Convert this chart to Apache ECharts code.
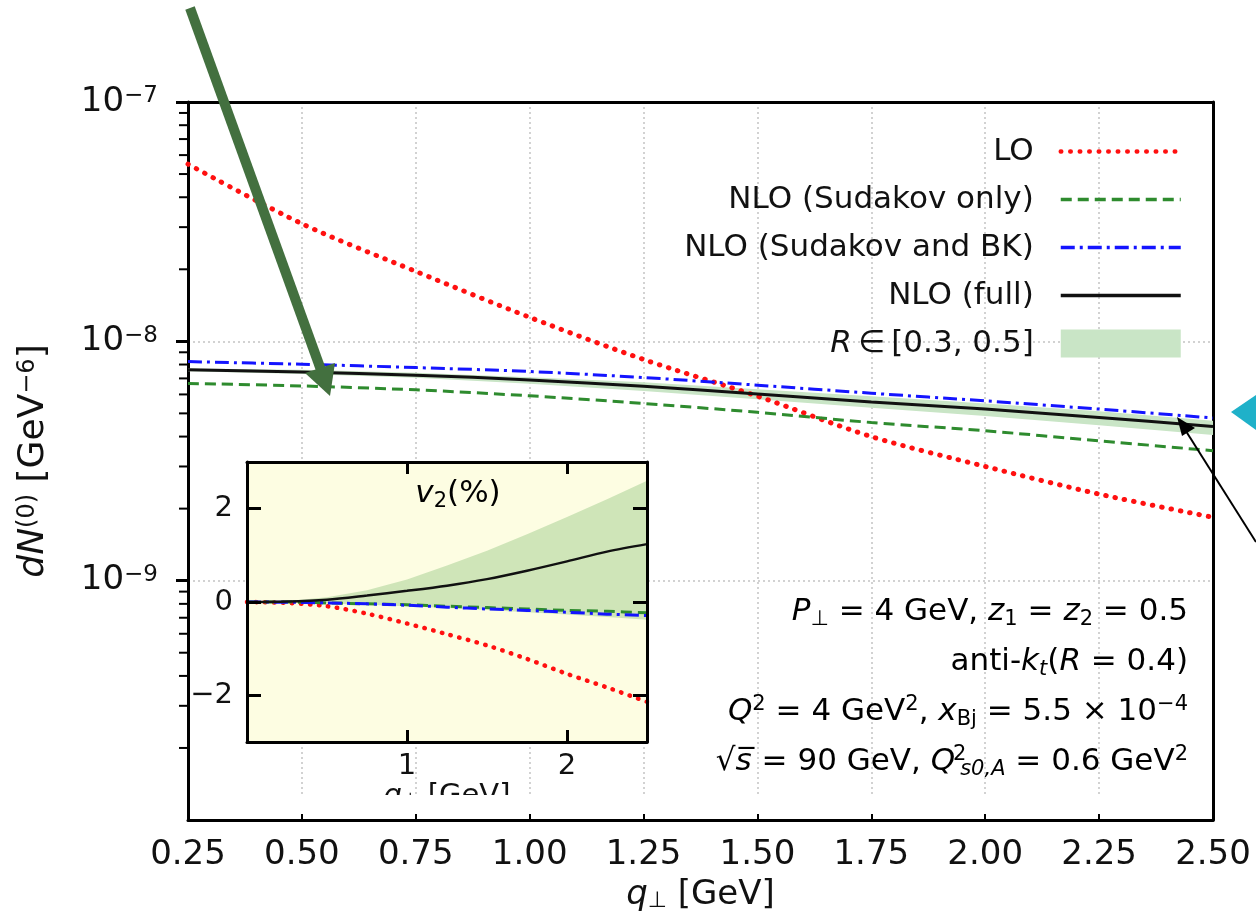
<!DOCTYPE html>
<html>
<head>
<meta charset="utf-8">
<script src="https://cdn.jsdelivr.net/npm/echarts@6/dist/echarts.min.js"></script>
<style>
html, body { margin: 0; padding: 0; background: #fff; }
#chart { width: 1256px; height: 920px; }
</style>
</head>
<body>
<div id="chart"></div>
<script>
// main panel: dN/dq  (log scale)
var qMain = [0.25, 0.5, 0.75, 1.0, 1.25, 1.5, 1.75, 2.0, 2.25, 2.5];
var loMain = [5.5e-8, 3.1e-8, 1.96e-8, 1.26e-8, 8.4e-9, 5.9e-9, 4.0e-9, 3.0e-9, 2.3e-9, 1.84e-9];
var sudOnlyMain = [6.67e-9, 6.51e-9, 6.27e-9, 5.92e-9, 5.5e-9, 5.05e-9, 4.58e-9, 4.23e-9, 3.84e-9, 3.49e-9];
var sudBkMain = [8.23e-9, 8.02e-9, 7.77e-9, 7.48e-9, 7.06e-9, 6.56e-9, 6.07e-9, 5.64e-9, 5.21e-9, 4.78e-9];
var fullMain = [7.6e-9, 7.45e-9, 7.22e-9, 6.9e-9, 6.49e-9, 6.02e-9, 5.58e-9, 5.21e-9, 4.81e-9, 4.41e-9];
var bandHiMain = [7.7e-9, 7.6e-9, 7.4e-9, 7.08e-9, 6.75e-9, 6.31e-9, 5.9e-9, 5.5e-9, 5.1e-9, 4.66e-9];
var bandLoMain = [7.5e-9, 7.3e-9, 7.05e-9, 6.65e-9, 6.2e-9, 5.73e-9, 5.28e-9, 4.88e-9, 4.46e-9, 4.06e-9];
var minorTicks = [2e-10, 3e-10, 4e-10, 5e-10, 6e-10, 7e-10, 8e-10, 9e-10,
                  2e-9, 3e-9, 4e-9, 5e-9, 6e-9, 7e-9, 8e-9, 9e-9,
                  2e-8, 3e-8, 4e-8, 5e-8, 6e-8, 7e-8, 8e-8, 9e-8];

// inset: v2 (%)
var qIn = [0, 0.25, 0.5, 0.75, 1.0, 1.25, 1.5, 1.75, 2.0, 2.25, 2.5];
var loIn = [0, -0.02, -0.09, -0.25, -0.46, -0.69, -0.93, -1.22, -1.54, -1.83, -2.14];
var sudOnlyIn = [0, 0, -0.02, -0.04, -0.06, -0.09, -0.12, -0.15, -0.18, -0.2, -0.23];
var sudBkIn = [0, -0.005, -0.02, -0.04, -0.07, -0.11, -0.15, -0.18, -0.22, -0.26, -0.29];
var fullIn = [0, 0.01, 0.05, 0.14, 0.24, 0.35, 0.49, 0.67, 0.87, 1.08, 1.24];
var bandHiIn = [0, 0.02, 0.1, 0.25, 0.48, 0.78, 1.1, 1.45, 1.82, 2.2, 2.6];
var bandLoIn = [0, -0.01, -0.03, -0.06, -0.09, -0.13, -0.17, -0.22, -0.27, -0.32, -0.38];

var names = ['LO', 'NLO (Sudakov only)', 'NLO (Sudakov and BK)', 'NLO (full)', 'R ∈ [0.3, 0.5]'];

var FONT = 'DejaVu Sans';
var RED = '#ff1010', GREEN = '#2e8b2e', BLUE = '#1414ff', BLACK = '#111';
var BAND = '#c9e5c6';

function zip(xs, ys) {
    return xs.map(function (x, i) { return [x, ys[i]]; });
}

function bandRender(xs, hi, lo) {
    return function (params, api) {
        if (params.dataIndex !== 0) return null;
        var pts = [];
        for (var i = 0; i < xs.length; i++) pts.push(api.coord([xs[i], hi[i]]));
        for (var j = xs.length - 1; j >= 0; j--) pts.push(api.coord([xs[j], lo[j]]));
        return { type: 'polygon', shape: { points: pts }, style: { fill: api.visual('color') } };
    };
}

var subRich = {
    n: { fontSize: 31, fontFamily: FONT, color: '#111', lineHeight: 36 },
    i: { fontSize: 31, fontFamily: FONT, fontStyle: 'italic', color: '#111', lineHeight: 36 },
    sub: { fontSize: 21, fontFamily: FONT, color: '#111', lineHeight: 15, verticalAlign: 'bottom' },
    subi: { fontSize: 21, fontFamily: FONT, fontStyle: 'italic', color: '#111', lineHeight: 15, verticalAlign: 'bottom' },
    sup: { fontSize: 21, fontFamily: FONT, color: '#111', lineHeight: 17, verticalAlign: 'top' },
    supz: { fontSize: 21, fontFamily: FONT, color: '#111', lineHeight: 17, verticalAlign: 'top',
            width: 1, align: 'left', padding: [0, 0, 0, 4] }
};

var chartDom = document.getElementById('chart');
var myChart = echarts.init(chartDom);
var option;

option = {
    backgroundColor: '#fff',
    animation: false,
    grid: [
        { left: 188, top: 102, right: 43, bottom: 100 },
        { left: 247, top: 462, right: 609, bottom: 178, show: true, backgroundColor: '#fdfde2', borderWidth: 0, z: 5 }
    ],
    legend: {
        data: [
            { name: names[0], lineStyle: { width: 4.5, type: [0.5, 9], cap: 'round' } },
            { name: names[1], lineStyle: { width: 3.5, type: [11, 6] } },
            { name: names[2], lineStyle: { width: 3.5, type: [14, 5, 3, 5] } },
            { name: names[3], lineStyle: { width: 3.5 } },
            { name: names[4], icon: 'rect', itemStyle: { opacity: 1, color: BAND } }
        ],
        orient: 'vertical',
        align: 'right',
        right: 68,
        top: 131,
        itemWidth: 120,
        itemHeight: 28,
        itemGap: 17,
        itemStyle: { opacity: 0 },   // hide the marker drawn over line icons
        textStyle: {
            fontSize: 31, fontFamily: FONT, color: '#111', padding: [0, 22, 0, 0],
            rich: {
                i: { fontSize: 31, fontFamily: FONT, fontStyle: 'italic', color: '#111' },
                n: { fontSize: 31, fontFamily: FONT, color: '#111' }
            }
        },
        formatter: function (name) {
            return name === names[4] ? '{i|R}{n|\u2009∈\u2009[0.3, 0.5]}' : name;
        }
    },
    xAxis: [
        {
            type: 'value', gridIndex: 0, min: 0.25, max: 2.5, interval: 0.25,
            name: '{i|q}{s|⊥}{n| [GeV]}', nameLocation: 'middle', nameGap: 58,
            nameTextStyle: {
                rich: {
                    i: { fontSize: 34, fontFamily: FONT, fontStyle: 'italic', color: '#111' },
                    n: { fontSize: 34, fontFamily: FONT, color: '#111' },
                    s: { fontSize: 22, fontFamily: FONT, color: '#111', lineHeight: 14, verticalAlign: 'bottom' }
                }
            },
            axisLine: { lineStyle: { color: '#000', width: 3 } },
            axisTick: { inside: true, length: 8, lineStyle: { color: '#000', width: 2 } },
            axisLabel: {
                fontSize: 34, fontFamily: FONT, color: '#111', margin: 18,
                formatter: function (v) { return v.toFixed(2); }
            },
            splitLine: { show: true, lineStyle: { color: '#c4c4c4', type: [2, 3], width: 1.5 } }
        },
        {
            type: 'value', gridIndex: 0, position: 'top', min: 0.25, max: 2.5, interval: 0.25,
            axisLine: { lineStyle: { color: '#000', width: 3 } },
            axisTick: { show: false }, axisLabel: { show: false }, splitLine: { show: false }
        },
        {
            type: 'value', gridIndex: 1, min: 0, max: 2.5, interval: 1, z: 8,
            name: '{i|q}{s|⊥}{n| [GeV]}', nameLocation: 'middle', nameGap: 40,
            nameTextStyle: {
                rich: {
                    i: { fontSize: 29, fontFamily: FONT, fontStyle: 'italic', color: '#111' },
                    n: { fontSize: 29, fontFamily: FONT, color: '#111' },
                    s: { fontSize: 19, fontFamily: FONT, color: '#111', lineHeight: 12, verticalAlign: 'bottom' }
                }
            },
            axisLine: { onZero: false, lineStyle: { color: '#000', width: 3 } },
            axisTick: { inside: true, length: 12, lineStyle: { color: '#000', width: 3 } },
            axisLabel: { fontSize: 29, fontFamily: FONT, color: '#111', margin: 10, showMinLabel: false, showMaxLabel: false },
            splitLine: { show: false }
        },
        {
            type: 'value', gridIndex: 1, position: 'top', min: 0, max: 2.5, interval: 1, z: 8,
            axisLine: { onZero: false, lineStyle: { color: '#000', width: 3 } },
            axisTick: { inside: true, length: 12, lineStyle: { color: '#000', width: 3 } },
            axisLabel: { show: false }, splitLine: { show: false }
        }
    ],
    yAxis: [
        {
            type: 'log', gridIndex: 0, logBase: 10, min: 1e-10, max: 1e-7,
            name: '{i|dN}{s|(0)}{n| [GeV}{s|−6}{n|]}', nameLocation: 'middle', nameGap: 136, nameRotate: 90,
            nameTextStyle: {
                rich: {
                    i: { fontSize: 36, fontFamily: FONT, fontStyle: 'italic', color: '#111' },
                    n: { fontSize: 36, fontFamily: FONT, color: '#111' },
                    s: { fontSize: 24, fontFamily: FONT, color: '#111', lineHeight: 15, verticalAlign: 'top' }
                }
            },
            axisLine: { lineStyle: { color: '#000', width: 3 } },
            axisTick: { length: 12, lineStyle: { color: '#000', width: 3 } },
            axisLabel: {
                margin: 30, showMinLabel: false,
                formatter: function (v) {
                    var e = Math.round(Math.log(v) / Math.LN10);
                    return '{b|10}{s|−' + (-e) + '}';
                },
                rich: {
                    b: { fontSize: 34, fontFamily: FONT, color: '#111' },
                    s: { fontSize: 23, fontFamily: FONT, color: '#111', lineHeight: 16, verticalAlign: 'top' }
                }
            },
            splitLine: { show: true, lineStyle: { color: '#c4c4c4', type: [2, 3], width: 1.5 } }
        },
        {
            type: 'log', gridIndex: 0, position: 'right', logBase: 10, min: 1e-10, max: 1e-7,
            axisLine: { lineStyle: { color: '#000', width: 3 } },
            axisTick: { show: false }, axisLabel: { show: false }, splitLine: { show: false }
        },
        {
            type: 'value', gridIndex: 1, min: -3, max: 3, z: 8,
            axisLine: { onZero: false, lineStyle: { color: '#000', width: 3 } },
            axisTick: { inside: true, length: 14, customValues: [-2, 0, 2], lineStyle: { color: '#000', width: 3 } },
            axisLabel: {
                fontSize: 29, fontFamily: FONT, color: '#111', margin: 14, customValues: [-2, 0, 2],
                formatter: function (v) { return v < 0 ? '−' + Math.abs(v) : String(v); }
            },
            splitLine: { show: false }
        },
        {
            type: 'value', gridIndex: 1, position: 'right', min: -3, max: 3, z: 8,
            axisLine: { onZero: false, lineStyle: { color: '#000', width: 3 } },
            axisTick: { inside: true, length: 14, customValues: [-2, 0, 2], lineStyle: { color: '#000', width: 3 } },
            axisLabel: { show: false }, splitLine: { show: false }
        }
    ],
    series: [
        // main panel
        {
            name: names[4], type: 'custom', xAxisIndex: 0, yAxisIndex: 0, z: 1, clip: true,
            itemStyle: { color: BAND },
            renderItem: bandRender(qMain, bandHiMain, bandLoMain),
            encode: { x: 0, y: [1, 2] },
            data: qMain.map(function (q, i) { return [q, bandHiMain[i], bandLoMain[i]]; })
        },
        {
            name: names[0], type: 'line', xAxisIndex: 0, yAxisIndex: 0, symbol: 'none', smooth: 0.3,
            color: RED, lineStyle: { color: RED, width: 5, type: [0.5, 9], cap: 'round' },
            data: zip(qMain, loMain)
        },
        {
            name: names[1], type: 'line', xAxisIndex: 0, yAxisIndex: 0, symbol: 'none', smooth: 0.3,
            color: GREEN, lineStyle: { color: GREEN, width: 3, type: [11, 6] },
            data: zip(qMain, sudOnlyMain)
        },
        {
            name: names[2], type: 'line', xAxisIndex: 0, yAxisIndex: 0, symbol: 'none', smooth: 0.3,
            color: BLUE, lineStyle: { color: BLUE, width: 3, type: [14, 5, 3, 5] },
            data: zip(qMain, sudBkMain)
        },
        {
            name: names[3], type: 'line', xAxisIndex: 0, yAxisIndex: 0, symbol: 'none', smooth: 0.3,
            color: BLACK, lineStyle: { color: BLACK, width: 3 },
            data: zip(qMain, fullMain)
        },
        {
            name: 'minor ticks', type: 'custom', xAxisIndex: 0, yAxisIndex: 0, z: 3, silent: true,
            renderItem: function (params, api) {
                var p = api.coord([api.value(0), api.value(1)]);
                return { type: 'line', shape: { x1: p[0] - 9, y1: p[1], x2: p[0], y2: p[1] },
                         style: { stroke: '#000', lineWidth: 2 } };
            },
            data: minorTicks.map(function (v) { return [0.25, v]; })
        },
        // inset
        {
            name: 'v2 band', type: 'custom', xAxisIndex: 2, yAxisIndex: 2, z: 6, clip: true,
            itemStyle: { color: '#cfe5b8' },
            renderItem: bandRender(qIn, bandHiIn, bandLoIn),
            encode: { x: 0, y: [1, 2] },
            data: qIn.map(function (q, i) { return [q, bandHiIn[i], bandLoIn[i]]; })
        },
        {
            name: 'v2 LO', type: 'line', xAxisIndex: 2, yAxisIndex: 2, z: 7, symbol: 'none', smooth: 0.3,
            lineStyle: { color: RED, width: 4.5, type: [0.5, 8.5], cap: 'round' },
            data: zip(qIn, loIn)
        },
        {
            name: 'v2 Sudakov only', type: 'line', xAxisIndex: 2, yAxisIndex: 2, z: 7, symbol: 'none', smooth: 0.3,
            lineStyle: { color: GREEN, width: 3, type: [11, 6] },
            data: zip(qIn, sudOnlyIn)
        },
        {
            name: 'v2 Sudakov and BK', type: 'line', xAxisIndex: 2, yAxisIndex: 2, z: 7, symbol: 'none', smooth: 0.3,
            lineStyle: { color: BLUE, width: 3, type: [14, 5, 3, 5] },
            data: zip(qIn, sudBkIn)
        },
        {
            name: 'v2 full', type: 'line', xAxisIndex: 2, yAxisIndex: 2, z: 7, symbol: 'none', smooth: 0.3,
            lineStyle: { color: BLACK, width: 2.5 },
            data: zip(qIn, fullIn)
        }
    ],
    graphic: [
        // inset title
        {
            type: 'text', x: 458, y: 494, z: 20,
            style: { text: '{i|v}{sub|2}{n|(%)}', rich: subRich, align: 'center', verticalAlign: 'middle' }
        },
        // parameter block
        {
            type: 'text', x: 1188, y: 612, z: 20,
            style: { text: '{i|P}{sub|⊥}{n| = 4 GeV, }{i|z}{sub|1}{n| = }{i|z}{sub|2}{n| = 0.5}',
                     rich: subRich, align: 'right', verticalAlign: 'middle' }
        },
        {
            type: 'text', x: 1188, y: 662, z: 20,
            style: { text: '{n|anti-}{i|k}{subi|t}{n|(}{i|R}{n| = 0.4)}',
                     rich: subRich, align: 'right', verticalAlign: 'middle' }
        },
        {
            type: 'text', x: 1188, y: 712, z: 20,
            style: { text: '{i|Q}{sup|2}{n| = 4 GeV}{sup|2}{n|, }{i|x}{sub|Bj}{n| = 5.5 × 10}{sup|−4}',
                     rich: subRich, align: 'right', verticalAlign: 'middle' }
        },
        {
            type: 'text', x: 1188, y: 762, z: 20,
            style: { text: '{n|√}{i|s\u0305}{n| = 90 GeV, }{i|Q}{supz|2}{subi|s0,A}{n| = 0.6 GeV}{sup|2}',
                     rich: subRich, align: 'right', verticalAlign: 'middle' }
        },
        // white strip cut across the bottom of the plot
        { type: 'rect', z: 50, shape: { x: 190, y: 795, width: 1021, height: 19 }, style: { fill: '#fff' } },
        // green annotation arrow
        { type: 'line', z: 60, shape: { x1: 190, y1: 8, x2: 321, y2: 370 }, style: { stroke: '#43703f', lineWidth: 10 } },
        { type: 'polygon', z: 60, shape: { points: [[305, 373], [335, 363], [330, 396]] }, style: { fill: '#43703f' } },
        // black annotation arrow
        { type: 'line', z: 60, shape: { x1: 1256, y1: 542, x2: 1184, y2: 428 }, style: { stroke: '#000', lineWidth: 2 } },
        { type: 'polygon', z: 60, shape: { points: [[1177, 417], [1195, 428], [1182, 436]] }, style: { fill: '#000' } },
        // cyan marker at the right edge
        { type: 'polygon', z: 60, shape: { points: [[1231, 412], [1256, 395], [1256, 430]] }, style: { fill: '#1fb1c9' } }
    ]
};

option && myChart.setOption(option);
</script>
</body>
</html>
